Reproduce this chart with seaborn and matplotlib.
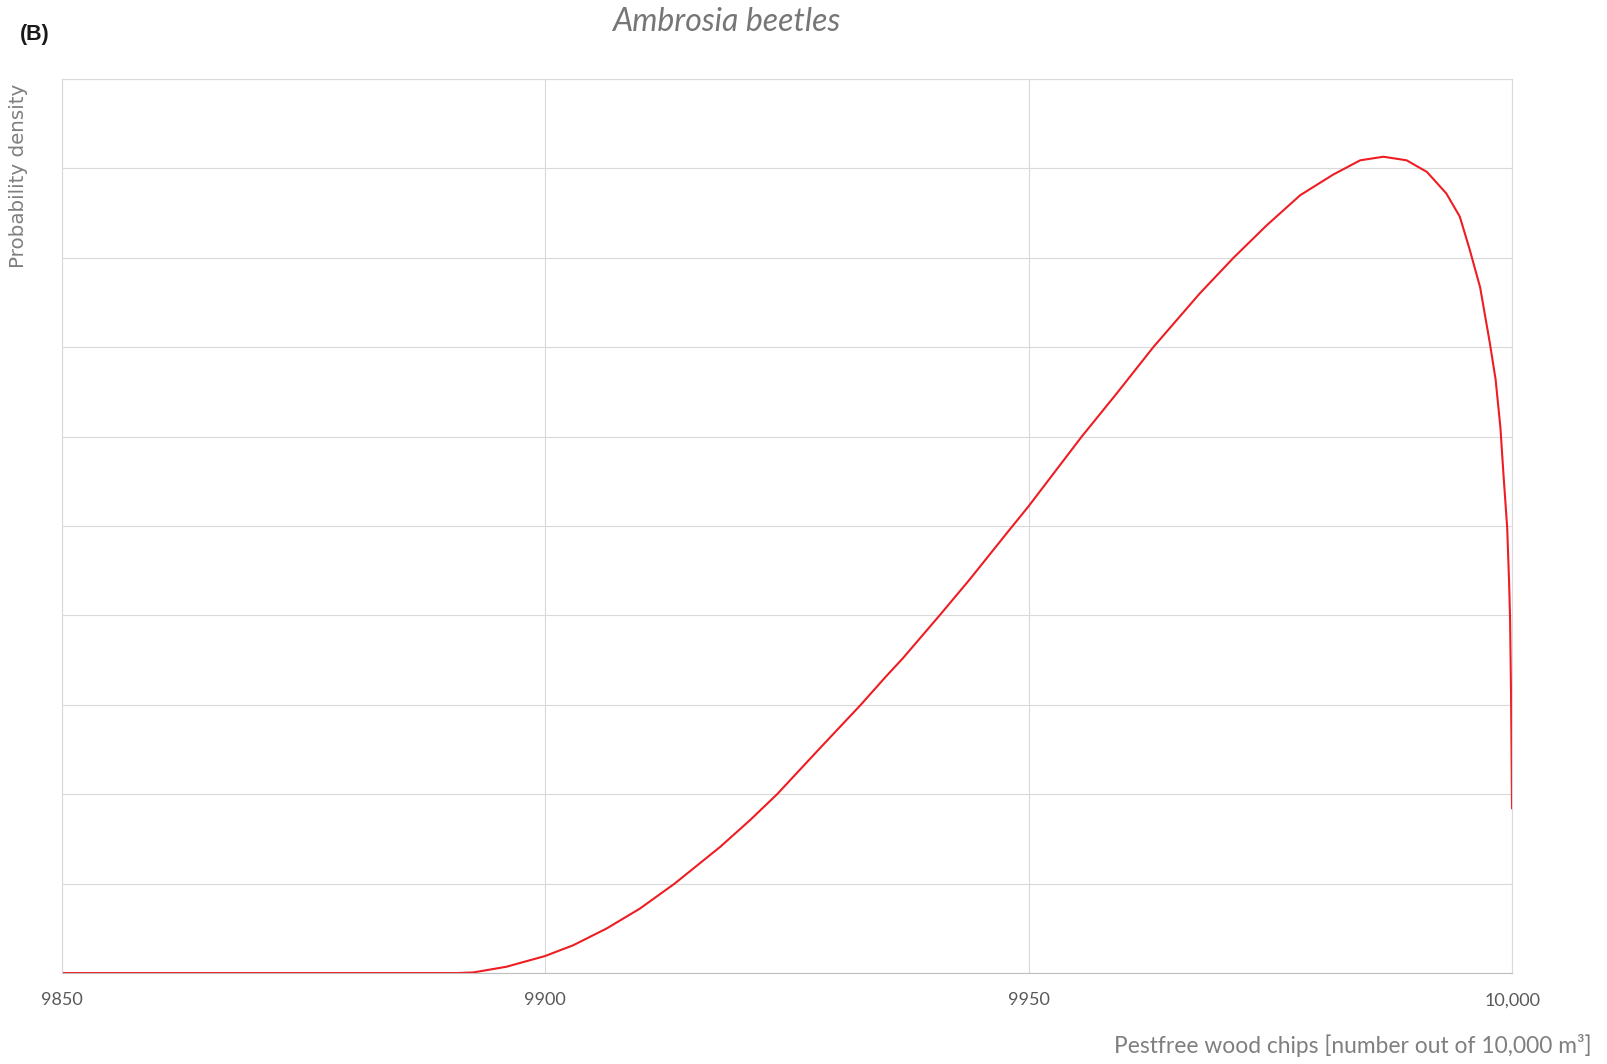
import numpy as np
import pandas as pd
import seaborn as sns
import matplotlib
matplotlib.use("Agg")
import matplotlib.pyplot as plt

# curve (x = pestfree chips, y = density in grid units)
chips = [9850, 9891, 9892.6, 9896, 9900, 9902.9, 9906.4, 9909.8, 9913.4, 9918.1,
         9921.2, 9924.0, 9928.3, 9932.65, 9935.2, 9937.0, 9940.8, 9943.9, 9947.9, 9950,
         9955.5, 9959.1, 9962.9, 9967.7, 9971.2, 9974.6, 9978.1, 9981.5, 9984.3, 9986.7,
         9989.1, 9991.2, 9993.2, 9994.6, 9995.6, 9996.7, 9997.7, 9998.3, 9998.8, 9999.1,
         9999.5, 9999.7, 9999.8, 9999.9, 10000]
density = [0, 0, 0.007, 0.07, 0.19, 0.31, 0.50, 0.72, 1.0, 1.41,
           1.71, 2.0, 2.50, 3.0, 3.31, 3.52, 4.0, 4.40, 4.94, 5.22,
           6.0, 6.48, 7.0, 7.6, 8.0, 8.36, 8.70, 8.93, 9.09, 9.13,
           9.09, 8.96, 8.72, 8.46, 8.1, 7.67, 7.05, 6.64, 6.10, 5.60,
           4.98, 4.36, 3.95, 3.12, 1.84]
xticks = [9850, 9900, 9950, 10000]
xtick_labels = ["9850", "9900", "9950", "10,000"]

df = pd.DataFrame({"chips": chips, "density": density})

sns.set_theme(style="whitegrid")
plt.rcParams['font.family'] = ['Lato', 'DejaVu Sans']

fig = plt.figure(figsize=(16.07, 10.64), dpi=100)
ax = fig.add_axes([0.0383, 0.0855, 0.9026, 0.8403])

sns.lineplot(data=df, x="chips", y="density", color="#ee1d23", linewidth=1.5, ax=ax)

ax.set_xlim(9850, 10000)
ax.set_ylim(0, 10)
ax.set_xticks(xticks)
ax.set_xticklabels(xtick_labels)
ax.set_yticks(np.arange(0, 11, 1))
ax.set_yticklabels([])
ax.tick_params(axis="x", length=0, pad=14, labelsize=13, labelcolor="#595959")
ax.tick_params(axis="y", length=0)
ax.grid(True, color="#d9d9d9", linewidth=0.8)
ax.set_xlabel("")
ax.set_ylabel("")
for side in ["left", "top", "right"]:
    ax.spines[side].set_color("#d9d9d9")
    ax.spines[side].set_linewidth(0.8)
ax.spines["bottom"].set_color("#bfbfbf")
ax.spines["bottom"].set_linewidth(0.8)

fig.text(0.4518, 0.979, "Ambrosia beetles", ha="center", va="center",
         fontsize=23, style="italic", color="#767676")
fig.text(0.0125, 0.968, "(B)", ha="left", va="center", fontsize=15.5,
         fontweight="bold", family="Liberation Sans", color="#1a1a1a")
fig.text(0.9907, 0.0174, "Pestfree wood chips [number out of 10,000 m³]",
         ha="right", va="center", fontsize=16.4, color="#7f7f7f")
fig.text(0.0115, 0.921, "Probability density", rotation=90, ha="center", va="top",
         fontsize=14.3, family="DejaVu Sans", color="#7f7f7f")

fig.savefig("out.png", dpi=100)
